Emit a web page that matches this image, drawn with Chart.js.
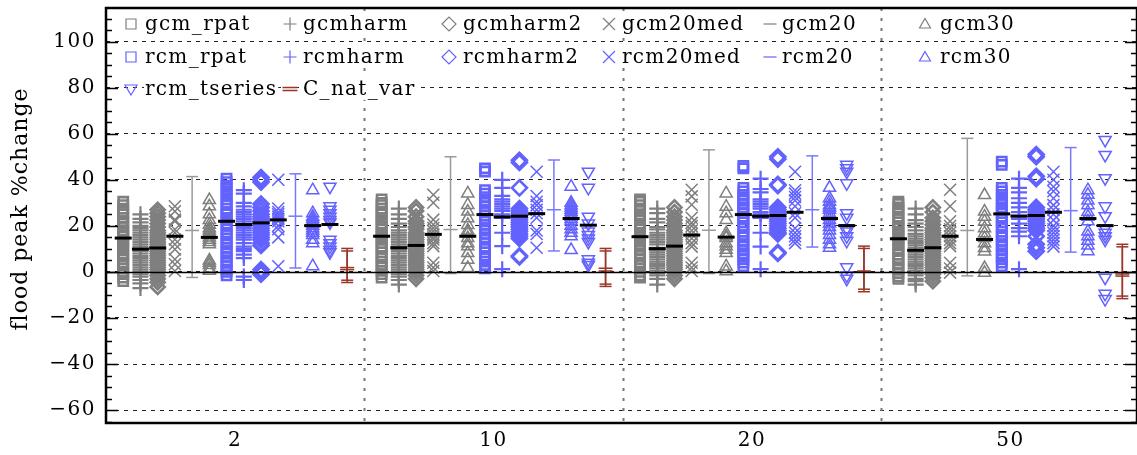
<!DOCTYPE html>
<html>
<head>
<meta charset="utf-8">
<script src="https://cdn.jsdelivr.net/npm/chart.js@4/dist/chart.umd.min.js"></script>
<style>
  html, body { margin: 0; padding: 0; background: #fff; overflow: hidden; }
  canvas { display: block; }
</style>
</head>
<body>
<canvas id="chart" width="1137" height="455"></canvas>
<script>
'use strict';

/* ---------- data ---------- */
const returnPeriods = ['2', '10', '20', '50'];
const yTicks = [-60, -40, -20, 0, 20, 40, 60, 80, 100];

const gcm_rpat = [
  [30.5, 29, 27.5, 26, 25, 23.5, 22, 21, 19.5, 18, 17, 16, 15.5, 14, 13, 12, 10.5, 9.5, 8, 7, 5.5, 4, 3, 1.5, 0, -1, -2.5, -4],
  [31.5, 30, 29, 27.5, 26, 25, 23.5, 22.5, 21, 20, 18.5, 17, 16, 15, 14, 12.5, 11, 10, 8.5, 7, 6, 4.5, 3, 2, 0.5, -1, -2.5],
  [31.5, 30.5, 29, 27.5, 26.5, 25, 24, 22.5, 21, 19.5, 18.5, 17, 16, 14.5, 13.5, 12, 11, 9.5, 8, 7, 5.5, 4, 3, 1.5, 0, -1.5, -2.5],
  [30.5, 29.5, 28, 27, 25.5, 24, 23, 21.5, 20, 19, 17.5, 16.5, 15, 14, 12.5, 11.5, 10, 9, 7.5, 6, 5, 3.5, 2, 1, -0.5, -2, -3]
];
const gcmharm = [
  [25, 23, 21.5, 20, 19, 18, 17, 16, 15, 14, 13, 12, 11, 10, 9, 8, 7, 6, 5, 4, 3, 2, 1, 0, -1, -2, -3.5, -5, -7],
  [27.5, 25, 23, 21, 19.5, 18, 17, 16, 15, 14, 13, 12, 11, 10, 9, 8, 7, 6, 5, 4, 3, 2, 1, 0, -1, -2, -3.5, -5.5],
  [27.5, 25.5, 23, 21.5, 19.5, 18.5, 17, 16, 15, 14, 13, 12, 10.5, 9.5, 8.5, 7.5, 6.5, 5.5, 4.5, 3.5, 2.5, 1.5, 0.5, -0.5, -1.5, -3, -5.5],
  [27.5, 25, 22.5, 21, 19.5, 18, 16.5, 15.5, 14.5, 13.5, 12.5, 11.5, 10.5, 9.5, 8.5, 7.5, 6.5, 5.5, 4.5, 3.5, 2.5, 1.5, 0.5, -0.5, -1.5, -3, -4, -5.5]
];
const gcmharm2 = [
  [27, 25.5, 24, 22.5, 21, 19.5, 18, 17, 16, 15, 14, 13, 12, 11, 10, 9, 8, 7, 6, 5, 4, 3, 2, 1, 0, -1.5, -3, -4.5, -6.5],
  [28, 26.5, 24, 22, 21, 19.5, 18.5, 17, 16, 15, 14, 13, 12, 11, 10, 9, 8, 7, 6, 5, 4, 3, 2, 1, 0, -1.5, -3],
  [28, 26, 24, 22.5, 21, 19.5, 18, 17, 16, 15, 14, 13, 12, 11, 10, 9, 8, 7, 6, 5, 4, 3, 2, 1, 0, -1.5, -3],
  [28, 26, 23.5, 22, 20.5, 19, 18, 17, 16, 15, 14, 13, 12, 11, 10, 9, 8, 7, 6, 5, 4, 3, 2, 1, 0, -1, -2.5, -4]
];
const gcm20med = [
  [28.5, 26.3, 22.7, 22, 18.4, 17, 14.1, 12, 9.8, 5.5, 3.3, 0.4],
  [33.5, 30, 22.7, 20.6, 19.1, 17.7, 16.3, 15, 14.1, 12.5, 11.2, 4, 1.9, 0.4],
  [35.7, 32.8, 29.2, 23.5, 21.3, 19.9, 18, 16.5, 14.5, 12.5, 11, 4, 1.9, 0.4],
  [35.7, 28.5, 22, 19.9, 18.5, 17, 15.5, 14, 12.5, 11.2, 4, 1.5, -0.3]
];
const gcm30 = [
  [31.2, 28.5, 25, 22.5, 20.5, 19, 18, 17, 16, 15, 14, 13, 12, 5, 4, 3, 1.5, 0.5],
  [34.1, 29.1, 26.2, 23.3, 20.4, 18, 16.8, 14.7, 12.5, 11.1, 8.2, 5.3, 1.7],
  [34.1, 28.3, 25.5, 22.6, 16.8, 15.5, 14.7, 12.5, 11.1, 9.6, 8.2, 2.4, 0.3],
  [33.4, 26.2, 24, 21.9, 19, 16.8, 14.7, 12.5, 10.4, 8.9, 1.7, -0.4]
];
const rcm_rpat = [
  [40.5, 39, 37.5, 36, 34.5, 33, 31.5, 30, 29, 27.5, 26, 25, 23.5, 22.5, 21, 20, 18.5, 17, 16, 14.5, 13, 12, 10.5, 9, 8, 6.5, 5, 4, 2.5, 1, 0, -1.5],
  [45, 43.6, 35.5, 34, 32.5, 31, 30, 28.5, 27, 26, 24.5, 23, 22, 20.5, 19, 18, 16.5, 15, 14, 12.5, 11, 10, 8.5, 7, 6, 4.5, 3, 1.5],
  [46, 45, 36.5, 35, 33.5, 32, 31, 29.5, 28, 27, 25.5, 24, 23, 21.5, 20, 19, 17.5, 16, 15, 13.5, 12, 11, 9.5, 8, 7, 5.5, 4, 2.5],
  [47.9, 46.5, 36.5, 35, 33.5, 32, 30.5, 29.5, 28, 27, 25.5, 24, 23, 21.5, 20, 19, 17.5, 16, 15, 13.5, 12, 11, 9.5, 8, 7, 5.5, 4, 2.5]
];
const rcmharm = [
  [35.5, 34, 30, 28.5, 27, 26, 25, 24, 23, 22, 21, 20, 19, 18, 17, 16, 15, 14, 12.5, 11, 10, 9, 7.5, 6, -2, -3.5],
  [40, 36.5, 33, 31.5, 30.5, 29.5, 28.5, 27.5, 26.5, 25, 23.5, 17, 11.2, 1.2],
  [40.5, 36, 34.5, 31.5, 30.5, 29.5, 28.5, 27.5, 26, 25, 23.5, 17, 11, 1.2],
  [40.5, 36.5, 34.5, 32, 30, 28, 26, 24.5, 23, 21, 19, 17.5, 15.5, 1.2]
];
const rcmharm2 = [
  [41, 40, 39, 29.5, 28, 26.5, 25, 24, 23, 22, 21, 20, 19, 18, 17, 16, 15, 14, 12.5, 11.5, 1, 0, -1],
  [48.5, 47.5, 36.5, 27.5, 26.5, 25.5, 24.5, 23.5, 22.5, 21.5, 20.5, 19.5, 18.5, 17.5, 16.5, 15.5, 14.5, 7, 6.5],
  [50, 49, 38, 37.5, 28, 27, 26, 25, 24, 23, 22, 21, 20, 19, 18, 17, 16.5, 8.5, 8],
  [51, 50, 41.5, 40.5, 28, 27, 26, 25, 24, 23, 22, 21, 20, 19, 18, 15.5, 12, 10.5, 9]
];
const rcm20med = [
  [40, 27.5, 26, 25, 24, 23, 22, 20, 18.5, 15, 2.5],
  [43.5, 33, 30.5, 29, 27, 25.5, 23.5, 18, 16.5, 10.5],
  [43.5, 35.5, 34, 32.5, 31, 28.5, 25.5, 23.5, 19, 17, 15.5, 14, 12.5],
  [43.5, 40, 37, 35, 32, 29, 27, 25, 22.5, 20, 18.5, 17, 15.5, 14, 12.5, 11]
];
const rcm30 = [
  [35.5, 25.5, 24, 23, 22, 21, 20, 19, 18, 17, 16, 14, 12.5, 2.5],
  [37, 30, 29, 28, 27, 26, 25, 24, 23, 22, 20, 18.5, 17, 15.5, 9.5],
  [36.5, 32, 30.5, 29, 28, 27, 25.5, 24, 22.5, 21, 19.5, 18, 16, 14, 12, 10.5],
  [35.5, 33.5, 31, 29, 26, 24, 22, 17.5, 15.5, 13.5, 11.5, 9]
];
const rcm_tseries = [
  [37, 28.5, 27, 25.5, 24, 22.5, 21.5, 14, 12.5, 11, 9.5, 8.5],
  [43.5, 36.5, 24, 21, 17.5, 16, 14.5, 13, 5.5, 4, 3],
  [46.5, 45, 43.5, 38.5, 25.5, 23.5, 19, 17.5, 15.5, 13.5, 2, -1.5, -3],
  [57.3, 50.8, 40.7, 28.5, 24.2, 19, 17, 15.5, 14, -2.5, -9.5, -11.8]
];

// ensemble means (black bars)
const gcm_rpat_mean    = [14.7, 15.5, 15.3, 14.4];
const gcmharm_mean     = [9.9, 10.5, 10.1, 9.4];
const gcmharm2_mean    = [10.4, 11.5, 11.2, 10.5];
const gcm20med_mean    = [15.5, 16.3, 16.0, 15.5];
const gcm30_mean       = [15.0, 15.5, 15.1, 14.1];
const rcm_rpat_mean    = [22.0, 24.9, 24.9, 25.2];
const rcmharm_mean     = [20.6, 23.9, 24.2, 24.2];
const rcmharm2_mean    = [21.3, 24.2, 24.5, 24.5];
const rcm20med_mean    = [22.6, 25.3, 25.9, 25.9];
const rcm30_mean       = [20.1, 23.2, 23.2, 23.2];
const rcm_tseries_mean = [20.6, 20.3, 20.1, 20.1];

// error bars: [low, mid, high]
const gcm20 = [[-2.4, 18, 41.4], [-0.7, 18.4, 50], [-0.7, 18.1, 53], [-1.7, 18, 58]];
const rcm20 = [[1.7, 24.2, 42.6], [9.1, 27, 48.6], [10.8, 27, 50.4], [8.6, 26.6, 54]];
const C_nat_var_a = [[-4.6, 1.9, 10.2], [-5.3, 1.6, 10.2], [-7.5, 0.4, 11.2], [-10.5, -0.9, 12.0]];
const C_nat_var_b = [[-3.6, 1.0, 9.1], [-6.3, 0.4, 9.1], [-8.6, 0, 10.2], [-11.6, -1.8, 10.9]];

/* ---------- styling ---------- */
const FONT = '"DejaVu Serif", serif';
const GRAY = '#7f7f7f';
const GRAY_LT = '#9a9a9a';
const BLUE = '#6262ff';
const BLUE_LT = '#7878ff';
const RED = '#9c3428';
const SLOTS = 15;   // 14 series per return period, evenly spaced

const markerSeries = [
  { name: 'gcm_rpat',    slot: 0,  style: 'rect',     rot: 0,   r: 6.5, bw: 2.6, color: GRAY, values: gcm_rpat,    means: gcm_rpat_mean },
  { name: 'gcmharm',     slot: 1,  style: 'cross',    rot: 0,   r: 8,   bw: 2.2, color: GRAY, values: gcmharm,     means: gcmharm_mean },
  { name: 'gcmharm2',    slot: 2,  style: 'rectRot',  rot: 0,   r: 7,   bw: 2.6, color: GRAY, values: gcmharm2,    means: gcmharm2_mean },
  { name: 'gcm20med',    slot: 3,  style: 'crossRot', rot: 0,   r: 8.5, bw: 1.5, color: GRAY, values: gcm20med,    means: gcm20med_mean },
  { name: 'gcm30',       slot: 5,  style: 'triangle', rot: 0,   r: 7,   bw: 1.5, color: GRAY, values: gcm30,       means: gcm30_mean },
  { name: 'rcm_rpat',    slot: 6,  style: 'rect',     rot: 0,   r: 6.5, bw: 2.6, color: BLUE, values: rcm_rpat,    means: rcm_rpat_mean },
  { name: 'rcmharm',     slot: 7,  style: 'cross',    rot: 0,   r: 8,   bw: 2.2, color: BLUE, values: rcmharm,     means: rcmharm_mean },
  { name: 'rcmharm2',    slot: 8,  style: 'rectRot',  rot: 0,   r: 7.5, bw: 2.6, color: BLUE, values: rcmharm2,    means: rcmharm2_mean },
  { name: 'rcm20med',    slot: 9,  style: 'crossRot', rot: 0,   r: 8.5, bw: 1.5, color: BLUE, values: rcm20med,    means: rcm20med_mean },
  { name: 'rcm30',       slot: 11, style: 'triangle', rot: 0,   r: 7,   bw: 1.5, color: BLUE, values: rcm30,       means: rcm30_mean },
  { name: 'rcm_tseries', slot: 12, style: 'triangle', rot: 180, r: 7,   bw: 1.5, color: BLUE, values: rcm_tseries, means: rcm_tseries_mean },
];
const errorSeries = [
  { slot: 4,  color: GRAY_LT, bars: gcm20 },
  { slot: 10, color: BLUE_LT, bars: rcm20 },
  { slot: 13, color: RED,     bars: C_nat_var_a },
  { slot: 13, color: RED,     bars: C_nat_var_b },
];

const xOf = (g, slot) => g + (slot + 1) / SLOTS;

/* ---------- datasets ---------- */
const datasets = [];

// means on top
datasets.push({
  label: 'mean', order: 0,
  data: markerSeries.flatMap(s => s.means.map((m, g) => ({ x: xOf(g, s.slot), y: m }))),
  pointStyle: 'line', pointRadius: 8.5, pointBorderWidth: 3,
  pointBorderColor: '#000', pointBackgroundColor: '#000', showLine: false
});

markerSeries.forEach(s => {
  datasets.push({
    label: s.name, order: 1,
    data: s.values.flatMap((vals, g) => vals.map(v => ({ x: xOf(g, s.slot), y: v }))),
    pointStyle: s.style, pointRotation: s.rot, pointRadius: s.r,
    pointBorderWidth: s.bw, pointBorderColor: s.color,
    pointBackgroundColor: 'rgba(0,0,0,0)', showLine: false
  });
});

errorSeries.forEach(e => {
  e.bars.forEach((b, g) => {
    datasets.push({
      type: 'line', label: 'err', order: 2,
      data: b.map(v => ({ x: xOf(g, e.slot), y: v })),
      showLine: true, borderColor: e.color, borderWidth: 1.5,
      pointStyle: 'line', pointRadius: [6, 7, 6], pointBorderWidth: 1.5,
      pointBorderColor: e.color, pointBackgroundColor: e.color
    });
  });
});

/* ---------- legend entries ---------- */
const legendItems = [
  { text: 'gcm_rpat',    mark: 'rect',   color: GRAY, col: 0, row: 0 },
  { text: 'gcmharm',     mark: 'plus',   color: GRAY, col: 1, row: 0 },
  { text: 'gcmharm2',    mark: 'diam',   color: GRAY, col: 2, row: 0 },
  { text: 'gcm20med',    mark: 'x',      color: GRAY, col: 3, row: 0 },
  { text: 'gcm20',       mark: 'dash',   color: GRAY, col: 4, row: 0 },
  { text: 'gcm30',       mark: 'tri',    color: GRAY, col: 5, row: 0 },
  { text: 'rcm_rpat',    mark: 'rect',   color: BLUE, col: 0, row: 1 },
  { text: 'rcmharm',     mark: 'plus',   color: BLUE, col: 1, row: 1 },
  { text: 'rcmharm2',    mark: 'diam',   color: BLUE, col: 2, row: 1 },
  { text: 'rcm20med',    mark: 'x',      color: BLUE, col: 3, row: 1 },
  { text: 'rcm20',       mark: 'dash',   color: BLUE, col: 4, row: 1 },
  { text: 'rcm30',       mark: 'tri',    color: BLUE, col: 5, row: 1 },
  { text: 'rcm_tseries', mark: 'tridn',  color: BLUE, col: 0, row: 2 },
  { text: 'C_nat_var',   mark: 'dbl',    color: RED,  col: 1, row: 2 },
];
const legendMarkX = [131, 290, 449, 609, 770, 925];
const legendTextX = [145, 303, 463, 622, 782, 940];
const legendRowY = [24, 57, 89];

function drawLegendMark(ctx, kind, x, y, color) {
  ctx.save();
  ctx.strokeStyle = color;
  ctx.lineWidth = 1.2;
  ctx.beginPath();
  if (kind === 'rect') ctx.rect(x - 5, y - 5, 10, 10);
  else if (kind === 'plus') { ctx.moveTo(x - 6.5, y); ctx.lineTo(x + 6.5, y); ctx.moveTo(x, y - 6.5); ctx.lineTo(x, y + 6.5); }
  else if (kind === 'diam') { ctx.moveTo(x - 7, y); ctx.lineTo(x, y - 7); ctx.lineTo(x + 7, y); ctx.lineTo(x, y + 7); ctx.closePath(); }
  else if (kind === 'x') { ctx.moveTo(x - 6, y - 6); ctx.lineTo(x + 6, y + 6); ctx.moveTo(x + 6, y - 6); ctx.lineTo(x - 6, y + 6); }
  else if (kind === 'dash') { ctx.moveTo(x - 6.5, y); ctx.lineTo(x + 6.5, y); }
  else if (kind === 'tri') { ctx.moveTo(x, y - 5.5); ctx.lineTo(x + 5.5, y + 4); ctx.lineTo(x - 5.5, y + 4); ctx.closePath(); }
  else if (kind === 'tridn') { ctx.moveTo(x, y + 6); ctx.lineTo(x + 6, y - 4); ctx.lineTo(x - 6, y - 4); ctx.closePath(); }
  else if (kind === 'dbl') { ctx.lineWidth = 1.5; ctx.moveTo(x - 7.5, y - 1.5); ctx.lineTo(x + 7.5, y - 1.5); ctx.moveTo(x - 7.5, y + 1.5); ctx.lineTo(x + 7.5, y + 1.5); }
  ctx.stroke();
  ctx.restore();
}

/* ---------- decoration plugin ---------- */
const decor = {
  id: 'decor',
  beforeLayout(chart) { chart.ctx.letterSpacing = '1.5px'; },
  beforeDraw(chart) { chart.ctx.letterSpacing = '1.5px'; },
  beforeDatasetsDraw(chart) {
    const { ctx, chartArea: a, scales: { x } } = chart;
    ctx.save();
    ctx.strokeStyle = '#777';
    ctx.lineWidth = 2;
    ctx.setLineDash([3, 7]);
    for (let b = 1; b < returnPeriods.length; b++) {
      const px = Math.round(x.getPixelForValue(b)) + 0.5;
      ctx.beginPath(); ctx.moveTo(px, a.top); ctx.lineTo(px, a.bottom); ctx.stroke();
    }
    ctx.restore();
  },
  afterDatasetsDraw(chart) {
    const { ctx, chartArea: a, scales: { y } } = chart;
    ctx.save();
    // zero line
    const y0 = Math.round(y.getPixelForValue(0)) + 0.5;
    ctx.strokeStyle = '#000';
    ctx.lineWidth = 1.3;
    ctx.beginPath(); ctx.moveTo(a.left, y0); ctx.lineTo(a.right, y0); ctx.stroke();

    // frame
    ctx.lineWidth = 2.5;
    ctx.strokeRect(a.left, a.top, a.right - a.left, a.bottom - a.top);

    // inward ticks on both sides
    ctx.lineWidth = 1.3;
    for (let v = -65; v <= 110; v += 5) {
      const py = Math.round(y.getPixelForValue(v)) + 0.5;
      const len = v % 20 === 0 ? 12 : 6;
      ctx.beginPath();
      ctx.moveTo(a.left, py); ctx.lineTo(a.left + len, py);
      ctx.moveTo(a.right, py); ctx.lineTo(a.right - len, py);
      ctx.stroke();
    }

    // legend
    ctx.font = '20px ' + FONT;
    ctx.letterSpacing = '1.3px';
    ctx.textBaseline = 'middle';
    ctx.textAlign = 'left';
    legendItems.forEach(it => {
      const ty = legendRowY[it.row];
      const tx = legendTextX[it.col];
      const w = ctx.measureText(it.text).width;
      ctx.fillStyle = '#fff';
      ctx.fillRect(tx - 1, ty - 11, w + 2, 22);
      ctx.fillStyle = '#000';
      ctx.fillText(it.text, tx, ty + 1);
      drawLegendMark(ctx, it.mark, legendMarkX[it.col], ty, it.color);
    });

    // y axis title
    ctx.save();
    ctx.translate(21, 209);
    ctx.rotate(-Math.PI / 2);
    ctx.font = '22px ' + FONT;
    ctx.letterSpacing = '1px';
    ctx.textAlign = 'center';
    ctx.fillStyle = '#000';
    ctx.fillText('flood peak %change', 0, 0);
    ctx.restore();

    ctx.restore();
  }
};

new Chart(document.getElementById('chart'), {
  type: 'scatter',
  data: { datasets },
  options: {
    responsive: false,
    animation: false,
    devicePixelRatio: 1,
    layout: { autoPadding: false, padding: { top: 8, right: 0, left: 0, bottom: 0 } },
    plugins: { legend: { display: false }, tooltip: { enabled: false } },
    scales: {
      x: {
        type: 'linear', min: 0, max: 3.99,
        afterBuildTicks: s => { s.ticks = returnPeriods.map((_, i) => ({ value: i + 0.5 })); },
        afterFit: s => { s.height = 32; s.paddingLeft = 0; s.paddingRight = 0; },
        ticks: {
          autoSkip: false, maxRotation: 0, padding: 6, color: '#000',
          font: { family: FONT, size: 20 },
          callback: (v, i) => returnPeriods[i]
        },
        grid: { display: false, drawTicks: false },
        border: { display: false }
      },
      y: {
        min: -65.6, max: 114.6,
        afterBuildTicks: s => { s.ticks = yTicks.map(v => ({ value: v })); },
        afterFit: s => { s.width = 106; s.paddingTop = 0; s.paddingBottom = 0; },
        ticks: {
          padding: 10, color: '#000',
          font: { family: FONT, size: 20 },
          callback: v => String(v).replace('-', '\u2212')
        },
        grid: { color: '#222', lineWidth: 1, drawTicks: false },
        border: { display: false, dash: [4, 5] }
      }
    }
  },
  plugins: [decor]
});
</script>
</body>
</html>
